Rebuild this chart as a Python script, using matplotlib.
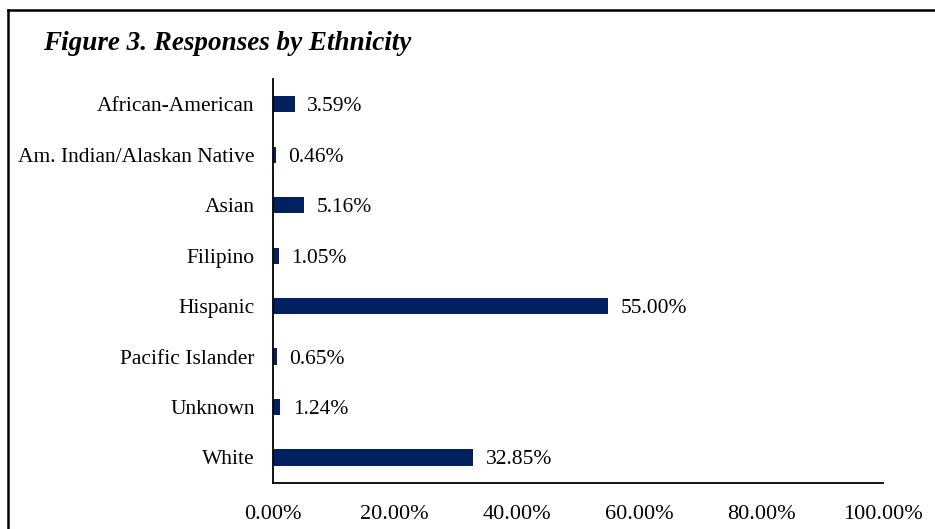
import matplotlib
matplotlib.use("Agg")
import matplotlib.pyplot as plt
from matplotlib.lines import Line2D

categories = ["African-American", "Am. Indian/Alaskan Native", "Asian", "Filipino",
              "Hispanic", "Pacific Islander", "Unknown", "White"]
values = [3.59, 0.46, 5.16, 1.05, 55.00, 0.65, 1.24, 32.85]
xticks = [0, 20, 40, 60, 80, 100]

plt.rcParams['font.family'] = ['Liberation Serif', 'DejaVu Serif']

W, H = 935, 529
fig = plt.figure(figsize=(W/100, H/100), dpi=100)
ax = fig.add_axes([272.7/W, 1-482.7/H, (883-272.7)/W, (482.7-79)/H])

ypos = list(range(len(categories)))
ax.barh(ypos, values, height=0.32, color="#002060")
ax.set_ylim(len(categories)-0.5, -0.5)
ax.set_xlim(0, 100)
ax.set_yticks(ypos)
ax.set_yticklabels(categories, fontsize=15.5, va='center_baseline')
ax.set_xticks(xticks)
ax.set_xticklabels([f"{t:.2f}%" for t in xticks], fontsize=16)
ax.tick_params(axis='both', length=0)
ax.tick_params(axis='y', pad=13)
ax.tick_params(axis='x', pad=16)
for s in ['top', 'right']:
    ax.spines[s].set_visible(False)
for s in ['left', 'bottom']:
    ax.spines[s].set_linewidth(1.3)
    ax.spines[s].set_color('black')

for y, v in zip(ypos, values):
    ax.annotate(f"{v:.2f}%", (v, y), xytext=(9, 0), textcoords='offset points',
                va='center_baseline', ha='left', fontsize=15.5)

fig.text(43/W, 1-44/H, "Figure 3. Responses by Ethnicity", fontsize=19.5,
         fontweight='bold', fontstyle='italic', va='center', ha='left')

# frame border
fig.add_artist(Line2D([8/W, 1.0], [1-10/H, 1-10/H], transform=fig.transFigure,
                      color='black', linewidth=1.8))
fig.add_artist(Line2D([8/W, 8/W], [1-10/H, 0.0], transform=fig.transFigure,
                      color='black', linewidth=1.8))

fig.savefig("out.png", dpi=100)
